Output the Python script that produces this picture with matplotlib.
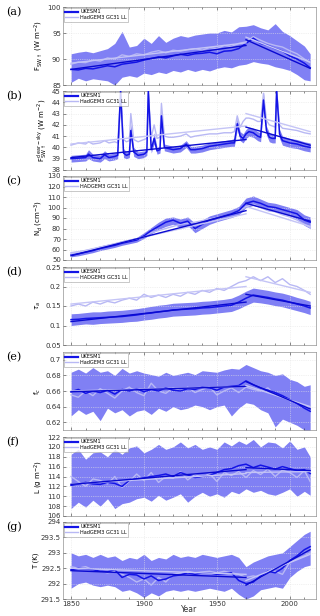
import matplotlib.pyplot as plt
from matplotlib.ticker import FormatStrFormatter
import numpy as np

# lata co 5 (panele a, c-g)
years = [1850, 1855, 1860, 1865, 1870, 1875, 1880, 1885, 1890, 1895, 1900, 1905,
         1910, 1915, 1920, 1925, 1930, 1935, 1940, 1945, 1950, 1955, 1960, 1965,
         1970, 1975, 1980, 1985, 1990, 1995, 2000, 2005, 2010, 2014]

# (a) F_SW up
uk_a = [88.0, 87.9, 88.2, 88.1, 88.4, 88.7, 88.5, 89.0, 89.2, 89.4, 89.8, 90.1, 90.4, 90.2, 90.6, 90.9, 90.7,
        91.0, 91.1, 91.3, 91.0, 91.5, 91.6, 92.0, 93.0, 94.0, 93.0, 92.6, 92.0, 91.5, 90.6, 90.0, 89.2, 88.3]
hg_a = [89.0, 89.4, 89.3, 89.8, 89.6, 90.2, 90.0, 90.8, 90.5, 91.0, 90.8, 91.3, 91.6, 91.2, 91.7, 91.5, 91.8,
        92.0, 91.7, 92.2, 92.0, 92.6, 92.4, 93.0, 93.3, 94.3, 93.6, 93.0, 92.6, 92.3, 91.6, 91.0, 90.0, 89.3]
lo_a = [85.5, 86.3, 85.8, 86.2, 86.0, 85.8, 85.0, 86.5, 86.8, 86.5, 87.3, 87.0, 87.5, 87.2, 87.8, 87.5, 88.0,
        87.6, 88.0, 87.7, 88.2, 88.5, 88.3, 88.8, 89.0, 89.5, 89.2, 89.0, 88.5, 88.2, 87.8, 87.0, 86.0, 85.8]
hi_a = [91.0, 91.3, 91.5, 91.2, 91.6, 92.0, 93.0, 95.3, 92.3, 92.6, 94.0, 93.0, 94.5, 93.2, 94.0, 94.5, 94.2,
        94.6, 94.8, 95.0, 95.0, 95.5, 95.2, 96.2, 96.3, 96.6, 96.0, 95.6, 96.8, 95.3, 94.5, 93.5, 92.5, 91.0]

# (b) clear-sky F_SW up - osobne lata (wulkany)
years_b = [1850, 1855, 1860, 1862, 1865, 1870, 1873, 1876, 1880, 1882, 1884, 1886, 1888, 1890, 1891, 1893,
           1896, 1900, 1902, 1903, 1905, 1907, 1909, 1911, 1912, 1914, 1917, 1920, 1925, 1929, 1932, 1935,
           1940, 1945, 1950, 1955, 1960, 1962, 1964, 1966, 1968, 1970, 1972, 1975, 1978, 1980, 1982, 1984,
           1986, 1988, 1990, 1991, 1993, 1995, 2000, 2005, 2010, 2014]
uk_b = [39.0, 39.05, 39.1, 39.4, 39.1, 39.0, 39.35, 39.1, 39.2, 39.3, 45.0, 39.5, 39.3, 39.4, 41.5, 39.6,
        39.3, 39.4, 39.6, 45.0, 39.8, 40.8, 39.7, 39.8, 42.8, 40.0, 39.9, 39.8, 39.9, 40.3, 39.8, 39.8,
        39.9, 40.1, 40.2, 40.3, 40.4, 40.4, 42.1, 41.0, 40.8, 41.2, 41.4, 41.3, 41.0, 40.9, 44.2, 41.5,
        40.9, 40.8, 40.8, 45.0, 41.2, 40.6, 40.4, 40.3, 40.1, 40.0]
hg_b = [40.2, 40.4, 40.3, 40.5, 40.3, 40.4, 40.6, 40.4, 40.5, 40.4, 44.5, 40.7, 40.5, 40.6, 43.0, 40.7,
        40.5, 40.7, 40.8, 44.8, 40.9, 42.0, 40.8, 40.9, 43.9, 41.0, 40.9, 40.9, 41.0, 41.2, 40.9, 41.0,
        41.1, 41.2, 41.2, 41.3, 41.3, 41.4, 42.8, 41.8, 42.3, 42.6, 42.6, 42.5, 42.3, 42.3, 44.8, 42.4,
        42.0, 41.9, 41.8, 45.0, 42.0, 41.7, 41.6, 41.5, 41.3, 41.2]
lo_b = [38.7, 38.75, 38.8, 39.0, 38.8, 38.7, 39.0, 38.8, 38.9, 39.0, 44.0, 39.1, 39.0, 39.1, 40.9, 39.2,
        39.0, 39.1, 39.3, 44.2, 39.5, 40.3, 39.4, 39.5, 42.1, 39.7, 39.6, 39.5, 39.6, 40.0, 39.5, 39.5,
        39.6, 39.8, 39.9, 40.0, 40.1, 40.1, 41.6, 40.6, 40.4, 40.8, 41.0, 40.9, 40.6, 40.5, 43.5, 41.1,
        40.5, 40.4, 40.4, 44.2, 40.8, 40.2, 40.0, 39.9, 39.7, 39.6]
hi_b = [39.3, 39.35, 39.4, 39.8, 39.4, 39.3, 39.7, 39.4, 39.5, 39.6, 45.5, 39.9, 39.6, 39.7, 42.1, 40.0,
        39.6, 39.7, 39.9, 45.5, 40.1, 41.3, 40.0, 40.1, 43.4, 40.3, 40.2, 40.1, 40.2, 40.6, 40.1, 40.1,
        40.2, 40.4, 40.5, 40.6, 40.7, 40.8, 42.6, 41.4, 41.2, 41.6, 41.8, 41.7, 41.4, 41.3, 44.9, 41.9,
        41.3, 41.2, 41.2, 45.5, 41.6, 41.0, 40.8, 40.7, 40.5, 40.4]

# (c) N_d
uk_c = [55, 56, 57.5, 59, 61, 62.5, 64, 66, 67.5, 69, 73, 78, 82, 86, 88, 85, 87,
        80, 84, 88, 90, 92, 94, 97, 104, 106, 104, 101, 100, 98, 96, 94, 88, 86]
hg_c = [57, 58, 59, 60.5, 62, 63.5, 65, 67, 68.5, 70, 73, 76, 78, 80, 82, 84, 85,
        86, 87.5, 89, 90.5, 92, 94, 96, 101, 103, 100, 97, 96, 93, 91, 88, 84, 81]
lo_c = [53, 54, 55.5, 57, 59, 60.5, 62, 64, 65.5, 67, 70.5, 75, 79, 82, 84, 81, 83,
        76, 80, 84, 86.5, 88.5, 90.5, 93, 100, 102, 100, 97, 96, 94, 92, 89, 83, 80]
hi_c = [57.5, 58.5, 60, 61.5, 63.5, 65, 66.5, 68.5, 70, 71.5, 76, 81, 86, 90, 91, 89, 91,
        85, 88, 92, 94, 96, 98, 101, 109, 111, 108, 105, 104, 102, 100, 98, 93, 91]

# (d) tau_a
uk_d = [0.115, 0.116, 0.118, 0.119, 0.120, 0.121, 0.122, 0.123, 0.125, 0.127, 0.130, 0.132, 0.135, 0.137,
        0.140, 0.141, 0.142, 0.143, 0.145, 0.146, 0.148, 0.150, 0.152, 0.160, 0.170, 0.178, 0.175, 0.172,
        0.168, 0.165, 0.160, 0.155, 0.150, 0.145]
hg_d = [0.150, 0.155, 0.150, 0.160, 0.155, 0.162, 0.158, 0.165, 0.170, 0.165, 0.180, 0.172, 0.178, 0.172,
        0.180, 0.175, 0.185, 0.180, 0.190, 0.185, 0.195, 0.190, 0.200, 0.210, 0.215, 0.225, 0.215, 0.225,
        0.210, 0.220, 0.205, 0.200, 0.190, 0.180]
lo_d = [0.100, 0.102, 0.104, 0.103, 0.105, 0.106, 0.107, 0.108, 0.110, 0.111, 0.114, 0.116, 0.119, 0.121,
        0.124, 0.125, 0.126, 0.127, 0.129, 0.130, 0.132, 0.134, 0.136, 0.143, 0.152, 0.160, 0.158, 0.155,
        0.151, 0.148, 0.143, 0.138, 0.133, 0.128]
hi_d = [0.130, 0.131, 0.133, 0.135, 0.135, 0.137, 0.138, 0.139, 0.141, 0.143, 0.146, 0.149, 0.152, 0.154,
        0.157, 0.158, 0.159, 0.160, 0.162, 0.163, 0.165, 0.167, 0.170, 0.178, 0.188, 0.196, 0.193, 0.190,
        0.186, 0.183, 0.178, 0.172, 0.167, 0.162]

# (e) f_c
uk_e = [0.659, 0.662, 0.657, 0.660, 0.658, 0.661, 0.656, 0.662, 0.660, 0.663, 0.659, 0.662, 0.660, 0.664,
        0.661, 0.660, 0.663, 0.662, 0.665, 0.664, 0.661, 0.665, 0.666, 0.667, 0.673, 0.668, 0.664, 0.661,
        0.658, 0.654, 0.649, 0.644, 0.638, 0.634]
hg_e = [0.655, 0.652, 0.660, 0.654, 0.663, 0.657, 0.651, 0.660, 0.665, 0.658, 0.654, 0.670, 0.660, 0.657,
        0.664, 0.660, 0.665, 0.658, 0.662, 0.665, 0.655, 0.660, 0.664, 0.658, 0.665, 0.662, 0.660, 0.664,
        0.655, 0.652, 0.648, 0.644, 0.640, 0.640]
lo_e = [0.628, 0.636, 0.630, 0.634, 0.622, 0.638, 0.632, 0.636, 0.628, 0.634, 0.636, 0.630, 0.638, 0.634,
        0.640, 0.636, 0.638, 0.642, 0.640, 0.636, 0.640, 0.642, 0.628, 0.638, 0.645, 0.643, 0.636, 0.632,
        0.614, 0.624, 0.620, 0.616, 0.610, 0.610]
hi_e = [0.684, 0.688, 0.683, 0.690, 0.684, 0.686, 0.680, 0.689, 0.683, 0.686, 0.683, 0.681, 0.679, 0.684,
        0.680, 0.682, 0.684, 0.681, 0.686, 0.685, 0.684, 0.687, 0.689, 0.688, 0.694, 0.690, 0.686, 0.684,
        0.680, 0.682, 0.675, 0.672, 0.666, 0.668]

# (f) L
uk_f = [112.2, 112.5, 112.8, 112.5, 112.4, 112.8, 112.6, 112.0, 113.2, 113.5, 113.7, 114.0, 114.2, 114.5,
        114.0, 114.8, 114.3, 113.8, 114.0, 114.2, 114.8, 115.4, 115.6, 116.2, 116.5, 115.8, 116.3, 115.9,
        115.5, 116.0, 115.6, 115.2, 115.4, 114.6]
hg_f = [114.0, 113.0, 112.0, 113.5, 113.2, 112.5, 114.0, 111.8, 113.0, 114.5, 113.2, 114.8, 112.8, 114.0,
        113.6, 115.0, 113.3, 114.4, 113.8, 114.6, 113.0, 114.8, 114.2, 115.0, 113.8, 115.2, 114.4, 115.5,
        114.0, 115.3, 114.8, 113.8, 115.2, 113.0]
lo_f = [107.5, 108.8, 107.8, 109.2, 108.0, 109.5, 107.5, 108.5, 108.8, 109.5, 109.8, 109.0, 110.2, 109.2,
        109.8, 110.5, 108.8, 110.0, 110.8, 110.0, 110.5, 109.8, 111.0, 110.5, 111.5, 110.8, 111.2, 110.5,
        110.2, 110.8, 111.5, 110.0, 111.0, 110.2]
hi_f = [118.5, 119.5, 117.5, 118.8, 119.0, 118.0, 119.5, 118.5, 119.8, 120.2, 118.8, 119.5, 120.5, 119.5,
        120.0, 121.0, 119.8, 120.5, 119.5, 120.0, 119.5, 121.0, 120.2, 121.2, 120.5, 121.5, 120.0, 121.0,
        120.8, 119.8, 121.2, 119.5, 120.0, 118.0]

# (g) T
uk_g = [292.45, 292.50, 292.48, 292.45, 292.40, 292.38, 292.45, 292.20, 292.30, 292.28, 292.15, 292.25,
        292.10, 292.15, 292.25, 292.28, 292.35, 292.30, 292.35, 292.35, 292.30, 292.32, 292.35, 292.10,
        292.00, 292.05, 292.25, 292.40, 292.35, 292.50, 292.75, 292.90, 293.10, 293.20]
hg_g = [292.55, 292.50, 292.55, 292.45, 292.40, 292.35, 292.40, 292.30, 292.20, 292.05, 292.15, 291.95,
        292.20, 292.05, 292.30, 292.35, 292.40, 292.35, 292.38, 292.40, 292.35, 292.40, 292.35, 292.30,
        292.20, 292.25, 292.20, 292.35, 292.40, 292.30, 292.70, 292.80, 292.90, 293.00]
lo_g = [291.85, 292.00, 292.05, 291.95, 291.90, 291.95, 291.90, 291.75, 291.80, 291.70, 291.55, 291.70,
        291.60, 291.75, 291.80, 291.75, 291.80, 291.75, 291.80, 291.85, 291.80, 291.75, 291.85, 291.65,
        291.50, 291.60, 291.80, 291.85, 291.90, 291.85, 292.20, 292.40, 292.55, 292.60]
hi_g = [293.00, 292.90, 292.95, 292.85, 292.95, 292.85, 292.90, 292.75, 292.85, 292.80, 292.95, 292.75,
        292.85, 292.80, 292.95, 292.85, 292.90, 292.85, 292.95, 292.90, 292.85, 292.90, 292.95, 292.85,
        292.55, 292.70, 292.80, 292.90, 292.95, 293.00, 293.20, 293.40, 293.60, 293.70]

# trendy: (1850, 1970) i (1970, 2014)
trend_years = [[1850, 1970], [1970, 2014]]
trend_uk = {'a': [[88.0, 92.6], [93.7, 88.2]], 'b': [[39.1, 40.7], [41.8, 40.2]],
            'c': [[54, 97], [104, 87]], 'd': [[0.11, 0.16], [0.18, 0.15]],
            'e': [[0.659, 0.666], [0.672, 0.637]], 'f': [[112.4, 115.4], [115.8, 115.2]],
            'g': [[292.42, 292.2], [291.95, 293.1]]}
trend_hg = {'a': [[89.2, 93.1], [94.2, 89.4]], 'b': [[40.3, 41.9], [43.0, 41.4]],
            'c': [[56, 94], [101, 82]], 'd': [[0.155, 0.20], [0.225, 0.185]],
            'e': [[0.660, 0.666], [0.667, 0.640]], 'f': [[112.5, 114.6], [114.8, 115.0]],
            'g': [[292.5, 292.3], [292.1, 292.95]]}

ylabels = {'a': r'F$_{\mathrm{SW}\uparrow}$ (W m$^{-2}$)',
           'b': r'F$^{\mathrm{clear-sky}}_{\mathrm{SW}\uparrow}$ (W m$^{-2}$)',
           'c': r'N$_d$ (cm$^{-3}$)', 'd': r'$\tau_a$', 'e': r'f$_c$',
           'f': r'L (g m$^{-2}$)', 'g': 'T (K)'}
hg_names = {'a': 'HadGEM3 GC31 LL', 'b': 'HadGEM3 GC31 LL', 'c': 'HADGEM3 GC31 LL',
            'd': 'HADGEM3 GC31 LL', 'e': 'HadGEM3 GC31 LL', 'f': 'HadGEM3 GC31 LL',
            'g': 'HadGEM3 GC31 LL'}
ylims = {'a': (85, 100), 'b': (38, 45), 'c': (50, 130), 'd': (0.05, 0.25),
         'e': (0.61, 0.71), 'f': (106, 122), 'g': (291.5, 294)}
yticks = {'a': [85, 90, 95, 100], 'b': np.arange(38, 46, 1), 'c': np.arange(50, 131, 10),
          'd': [0.05, 0.1, 0.15, 0.2, 0.25], 'e': [0.62, 0.64, 0.66, 0.68, 0.7],
          'f': np.arange(106, 123, 2), 'g': [291.5, 292, 292.5, 293, 293.5, 294]}

# pozycje paneli w pikselach (góra, dół)
panel_px = {'a': (7, 85), 'b': (91, 170), 'c': (176, 260), 'd': (267, 345),
            'e': (352, 430), 'f': (437, 516), 'g': (522, 599)}

series = {'a': (years, uk_a, hg_a, lo_a, hi_a), 'b': (years_b, uk_b, hg_b, lo_b, hi_b),
          'c': (years, uk_c, hg_c, lo_c, hi_c), 'd': (years, uk_d, hg_d, lo_d, hi_d),
          'e': (years, uk_e, hg_e, lo_e, hi_e), 'f': (years, uk_f, hg_f, lo_f, hi_f),
          'g': (years, uk_g, hg_g, lo_g, hi_g)}

c_uk = '#1414e6'
c_band = '#8080f4'
c_hg = '#b8b8f4'
c_hg_trend = '#c4c4f6'

W, H = 320, 616
fig = plt.figure(figsize=(W / 100, H / 100), dpi=100)

for key in 'abcdefg':
    top, bot = panel_px[key]
    ax = fig.add_axes([63 / W, 1 - bot / H, (316 - 63) / W, (bot - top) / H])
    yr, uk, hg, lo, hi = series[key]
    ax.fill_between(yr, lo, hi, color=c_band, lw=0, zorder=1)
    ax.plot(yr, hg, color=c_hg, lw=1.0, zorder=2, label=hg_names[key])
    ax.plot(yr, uk, color=c_uk, lw=1.1, zorder=3, label='UKESM1')
    for ty, tu, th in zip(trend_years, trend_uk[key], trend_hg[key]):
        ax.plot(ty, th, color=c_hg_trend, lw=1.0, zorder=4)
        ax.plot(ty, tu, color='#0a0ad0', lw=1.0, zorder=4)

    ax.set_xlim(1844.5, 2018)
    ax.set_ylim(*ylims[key])
    ax.set_yticks(yticks[key])
    ax.yaxis.set_major_formatter(FormatStrFormatter('%g'))
    ax.set_xticks([1850, 1900, 1950, 2000])
    ax.set_xticks(np.arange(1850, 2015, 10), minor=True)
    ax.tick_params(axis='both', which='both', direction='in', top=True, right=False,
                   labelsize=5, colors='#333333', length=2, width=0.4, pad=1.5)
    ax.tick_params(which='minor', length=1.2)
    ax.grid(True, which='major', color='#e4e4e4', linestyle=':', lw=0.5)
    for s in ax.spines.values():
        s.set_linewidth(0.4)
        s.set_color('#777777')
    ax.set_ylabel(ylabels[key], fontsize=5, labelpad=1.5)
    if key != 'g':
        ax.tick_params(labelbottom=False)

    h, l = ax.get_legend_handles_labels()
    leg = ax.legend(h[::-1], l[::-1], loc='upper left', fontsize=3.6, frameon=True,
                    fancybox=False, borderaxespad=0.15, handlelength=2.6, borderpad=0.3,
                    labelspacing=0.15, handletextpad=0.4)
    leg.get_frame().set_linewidth(0.4)
    leg.get_frame().set_edgecolor('#888888')
    leg.get_lines()[0].set_linewidth(1.6)

    fig.text(6 / W, 1 - (top + 5) / H, f'({key})', fontsize=8, family='DejaVu Serif',
             va='center', ha='left')

fig.text((63 + 316) / 2 / W, 1 - 610 / H, 'Year', fontsize=5.5, ha='center', va='center',
         color='#333333')

fig.savefig('out.png', dpi=100)
